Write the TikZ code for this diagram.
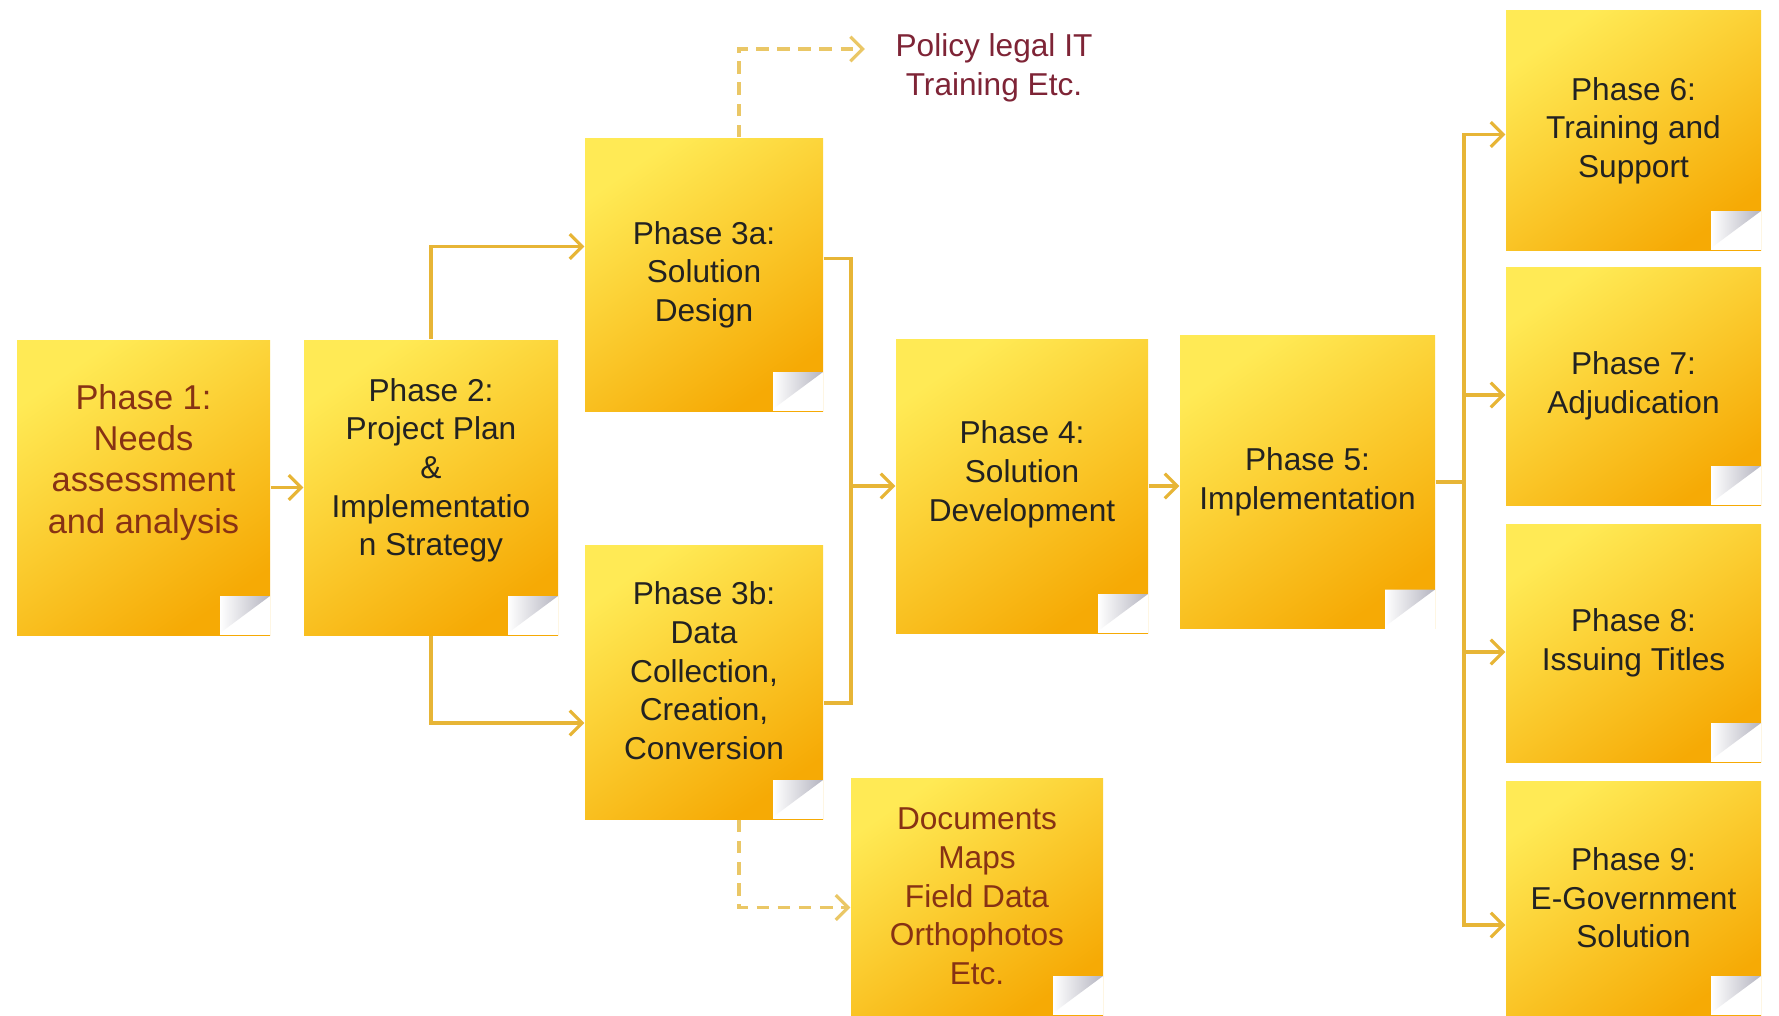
\documentclass[tikz,border=0pt]{standalone}
\usepackage{fontspec}
\setmainfont{Liberation Sans}
\usepackage{tikz}
\usetikzlibrary{arrows.meta,positioning,calc}
\usepackage{xcolor}
\definecolor{noteA}{HTML}{FFEA55}
\definecolor{noteB}{HTML}{FFD52A}
\definecolor{noteD}{HTML}{F6AA05}
\definecolor{linkgold}{HTML}{E7B536}
\definecolor{dashgold}{HTML}{EAC766}
\definecolor{inkdark}{HTML}{222222}
\definecolor{inkbrown}{HTML}{873214}
\definecolor{inkmaroon}{HTML}{7E2436}
\definecolor{curlgray}{HTML}{B4B4C0}
\newcommand{\notefont}{\fontsize{9}{11}\selectfont}
\tikzset{note/.style={rectangle,inner sep=0pt,align=center,text=inkdark,font=\notefont,
  minimum width=2.53cm,minimum height=2.94cm,
  path picture={
    \path (path picture bounding box.south west) coordinate (nsw)
          (path picture bounding box.north east) coordinate (nne)
          (path picture bounding box.south east) coordinate (nse);
    \shade[top color=noteA,middle color=noteB,bottom color=noteD,shading angle=35]
      (nsw) rectangle (nne);
    % curled corner
    \fill[white] ($(nse)+(-0.5,0)$) rectangle ($(nse)+(0.01,0.39)$);
    \shade[left color=white,right color=curlgray]
      ($(nse)+(-0.5,0.39)$) -- ($(nse)+(-0.5,0.02)$) -- ($(nse)+(0,0.39)$) -- cycle;
  }}}
\tikzset{link/.style={draw=linkgold,line width=0.9pt,-{Straight Barb[length=3.5pt,width=7pt]}}}
\tikzset{joint/.style={draw=linkgold,line width=0.9pt}}
\tikzset{hint/.style={draw=dashgold,line width=0.9pt,dash pattern=on 3.6pt off 2.4pt,
  -{Straight Barb[length=3.5pt,width=7pt]}}}

\begin{document}
\begin{tikzpicture}
\useasboundingbox (0,0) rectangle (17.79,10.15);
% \draw[help lines] (0,0) grid (17,10);
\node (p1) [note,text=inkbrown,font=\fontsize{9.8}{11.7}\selectfont,minimum height=2.95cm] at (1.435,5.275)
  {Phase 1:\\Needs\\assessment\\and analysis\\[0.16cm]};
\node (p2) [note,minimum width=2.54cm,minimum height=2.95cm] at (4.31,5.275)
  {Phase 2:\\Project Plan\\\&\\Implementatio\\n Strategy\\[0.02cm]};
\node (p3a) [note,minimum width=2.38cm,minimum height=2.73cm] at (7.04,7.405)
  {Phase 3a:\\Solution\\Design};
\node (p3b) [note,minimum width=2.38cm,minimum height=2.74cm] at (7.04,3.33)
  {Phase 3b:\\Data\\Collection,\\Creation,\\Conversion\\[-0.16cm]};
\node (p4) [note,minimum width=2.52cm] at (10.22,5.29)
  {Phase 4:\\Solution\\Development\\[-0.09cm]};
\node (p5) [note,minimum width=2.55cm,minimum height=2.93cm] at (13.075,5.33)
  {Phase 5:\\Implementation};
\node (p6) [note,minimum width=2.55cm,minimum height=2.39cm] at (16.335,8.845)
  {Phase 6:\\Training and\\Support};
\node (p7) [note,minimum width=2.55cm,minimum height=2.38cm] at (16.335,6.29)
  {Phase 7:\\Adjudication};
\node (p8) [note,minimum width=2.55cm,minimum height=2.38cm] at (16.335,3.72)
  {Phase 8:\\Issuing Titles};
\node (p9) [note,minimum width=2.55cm,minimum height=2.34cm] at (16.335,1.17)
  {Phase 9:\\E-Government\\Solution};
\node (docs) [note,text=inkbrown,minimum width=2.52cm,minimum height=2.37cm] at (9.77,1.185)
  {Documents\\Maps\\Field Data\\Orthophotos\\Etc.};
\node (policy) [align=center,text=inkmaroon,font=\notefont,inner xsep=0.3cm,inner ysep=0pt] at (9.94,9.47)
  {Policy legal IT\\Training Etc.};
\coordinate (merge) at (8.51,5.29);
\coordinate (bus) at (14.64,5.33);
%
\draw[link] (p1) -- (p2);
\draw[link] (p2.north) |- ([yshift=0.28cm]p3a.west);
\draw[link] (p2.south) |- ([yshift=-0.41cm]p3b.west);
\draw[joint] ([yshift=0.16cm]p3a.east) -| (merge) |- ([yshift=-0.21cm]p3b.east);
\draw[link] (merge) -- (p4.west);
\draw[link] (p4.east) -- (p4.east -| p5.west);
\draw[joint] (p5.east) -- (bus);
\draw[link] (bus) |- ([yshift=-0.04cm]p6.west);
\draw[link] (bus) |- ([yshift=-0.09cm]p7.west);
\draw[link] (bus) |- ([yshift=-0.09cm]p8.west);
\draw[link] (bus) |- ([yshift=-0.27cm]p9.west);
\draw[hint] ([xshift=0.35cm]p3a.north) |- ([yshift=0.19cm]policy.west);
\draw[hint] ([xshift=0.35cm]p3b.south) |- ([yshift=-0.11cm]docs.west);
\end{tikzpicture}
\end{document}
